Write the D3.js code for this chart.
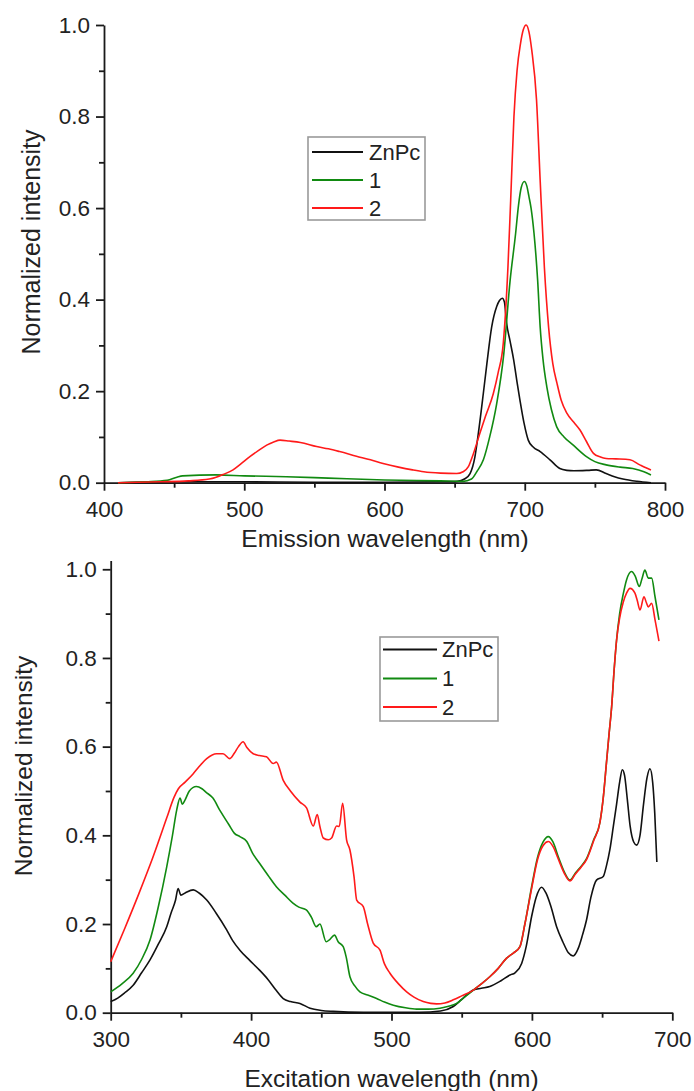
<!DOCTYPE html>
<html>
<head>
<meta charset="utf-8">
<script src="https://cdn.jsdelivr.net/npm/d3@7"></script>
<style>
  html, body { margin: 0; padding: 0; background: #fff; }
  svg { display: block; font-family: "Liberation Sans", Arial, Helvetica, sans-serif; }
</style>
</head>
<body>
<svg id="chart" width="694" height="1091"></svg>
<script>
// ---- Emission spectra: [wavelength nm, normalized intensity] ----
const emissionZnPc = [
  [410,0],[450,0.002],[500,0.002],[550,0.001],[600,0.001],[640,0.002],[652,0.003],[657,0.008],
  [661,0.02],[664.5,0.057],[667,0.11],[670.5,0.196],[673,0.26],[676.4,0.34],[680,0.385],[682,0.398],
  [684,0.403],[685.5,0.395],[687,0.35],[689.5,0.31],[692,0.27],[694.5,0.22],[696.6,0.18],[699.5,0.13],
  [702.5,0.093],[706,0.078],[711,0.068],[718,0.05],[725,0.031],[730,0.027],[735,0.026],[745,0.027],
  [751,0.028],[758,0.02],[764,0.013],[770,0.008],[780,0.003],[790,0.0]
];
const emission1 = [
  [410,0],[430,0.002],[445,0.005],[452,0.012],[456,0.015],[480,0.017],[500,0.015],[530,0.013],
  [560,0.01],[600,0.006],[640,0.004],[656,0.003],[662,0.008],[666,0.025],[670.5,0.05],[675,0.1],
  [680,0.173],[685,0.28],[689.5,0.44],[693.5,0.545],[695.5,0.605],[697.5,0.645],[699.7,0.658],
  [701.5,0.648],[703,0.625],[704.5,0.6],[706.6,0.545],[709.2,0.442],[711,0.34],[713,0.27],
  [715.7,0.21],[719,0.16],[722.8,0.122],[728,0.1],[734.6,0.082],[744,0.057],[750,0.046],
  [758,0.039],[768,0.034],[777,0.031],[785,0.024],[790,0.017]
];
const emission2 = [
  [410,0],[440,0.002],[460,0.004],[475,0.008],[480,0.012],[485,0.018],[492,0.028],[498,0.042],
  [504,0.057],[510,0.07],[516,0.082],[521,0.089],[525.5,0.093],[532,0.091],[540,0.088],[551.6,0.079],
  [560,0.074],[568,0.068],[580,0.058],[590,0.05],[599,0.042],[610,0.034],[620,0.028],[628,0.024],
  [640,0.021],[651.5,0.02],[656,0.024],[659.8,0.035],[663,0.06],[668,0.108],[672,0.145],[677.6,0.195],
  [681,0.24],[684.7,0.305],[688,0.47],[690,0.62],[692.3,0.8],[694.5,0.9],[697,0.96],[699,0.99],
  [701,1.0],[703,0.985],[705,0.945],[708.4,0.836],[711,0.66],[714,0.47],[717,0.34],[720,0.26],
  [723,0.217],[726,0.18],[730,0.152],[735,0.132],[739.4,0.115],[744,0.09],[749,0.064],[754,0.056],
  [758,0.053],[765,0.052],[775,0.05],[782,0.039],[786,0.033],[790,0.028]
];

// ---- Excitation spectra: [wavelength nm, normalized intensity] ----
const excitationZnPc = [
  [300,0.025],[305,0.033],[310,0.045],[316,0.062],[322,0.09],[328,0.119],[334,0.155],[339.9,0.194],
  [343,0.225],[346.2,0.254],[348,0.28],[350,0.265],[353,0.27],[358.8,0.277],[363,0.27],[368.4,0.254],
  [375,0.225],[382.6,0.187],[387,0.162],[392,0.141],[399,0.118],[406,0.096],[412,0.075],[418,0.05],
  [422.9,0.032],[428,0.025],[434.8,0.021],[442,0.01],[450,0.005],[458.5,0.003],[480,0.001],[520,0.001],
  [535,0.004],[544,0.014],[550,0.03],[558.3,0.051],[564,0.055],[570,0.059],[578,0.072],[584.4,0.085],
  [588,0.09],[592.7,0.111],[596,0.15],[599.8,0.217],[603,0.26],[606.9,0.283],[610,0.27],[613.5,0.24],
  [617.6,0.194],[622,0.16],[626,0.135],[629.4,0.128],[633,0.145],[636,0.175],[638.9,0.209],[642,0.26],
  [646,0.299],[650.8,0.307],[653,0.33],[655.5,0.367],[658,0.42],[660.3,0.47],[662.5,0.52],[664.4,0.548],
  [666,0.535],[668,0.48],[670,0.42],[672.5,0.385],[674.6,0.378],[677,0.4],[679.5,0.47],[682,0.53],
  [684.1,0.55],[686,0.52],[687.5,0.45],[689,0.34]
];
const excitation1 = [
  [300,0.047],[308,0.065],[316,0.089],[322,0.12],[328,0.164],[334,0.24],[339.9,0.329],[344,0.4],
  [347,0.457],[349.4,0.484],[351,0.47],[353,0.48],[356,0.5],[361,0.51],[365,0.505],[368,0.497],
  [372.8,0.484],[378,0.455],[384,0.425],[388,0.405],[392,0.397],[396.9,0.386],[401,0.36],[406,0.337],
  [412,0.31],[418,0.284],[424,0.265],[429.8,0.247],[434,0.238],[439.3,0.232],[443,0.215],[446.4,0.194],
  [449,0.2],[453.5,0.16],[456,0.165],[459.4,0.175],[462,0.16],[465.6,0.149],[467.7,0.126],[470.4,0.081],
  [474,0.06],[477.5,0.047],[483,0.04],[489.4,0.032],[495,0.024],[501.3,0.017],[510,0.011],[517.9,0.008],
  [526,0.008],[534.5,0.01],[540,0.014],[546.4,0.021],[552,0.035],[558.3,0.051],[564,0.065],[570,0.081],
  [576,0.1],[582,0.123],[587,0.135],[591.5,0.149],[595,0.2],[599.8,0.284],[604,0.35],[608,0.385],
  [611.7,0.397],[615,0.385],[619,0.35],[623,0.318],[627.1,0.299],[631,0.315],[635,0.33],[639,0.348],
  [644,0.39],[648.5,0.43],[651,0.49],[653,0.56],[655,0.63],[656.8,0.69],[658.5,0.77],[660.3,0.84],
  [662.5,0.9],[665.1,0.945],[667.4,0.976],[671,0.995],[673.5,0.985],[676.5,0.961],[678.5,0.98],
  [680.5,0.998],[682.9,0.98],[685.3,0.98],[687.7,0.938],[690.5,0.886]
];
const excitation2 = [
  [300,0.115],[310,0.19],[320,0.268],[330,0.35],[340,0.44],[345,0.485],[348.2,0.505],
  [353,0.52],[358.8,0.539],[363,0.555],[368.4,0.573],[375.4,0.584],
  [380,0.584],[384.9,0.573],[388,0.585],[391,0.6],[394.3,0.611],[397,0.598],[401.5,0.584],[406,0.58],
  [411,0.577],[415.7,0.562],[418,0.565],[422.9,0.524],[428,0.5],[434.8,0.475],[439.5,0.462],[444.3,0.421],
  [447.1,0.447],[449,0.42],[451.4,0.394],[455,0.39],[457.3,0.394],[460.9,0.421],[462.8,0.42],[465.2,0.472],
  [468,0.39],[470.4,0.367],[473.3,0.307],[475.2,0.254],[479.9,0.239],[483,0.2],[487,0.157],[491.8,0.141],
  [495,0.11],[498.9,0.089],[505,0.065],[510.8,0.047],[516,0.035],[522.6,0.025],[528,0.021],[532.1,0.02],
  [538,0.022],[544,0.029],[550,0.038],[558.3,0.051],[564,0.065],[570,0.081],[576,0.1],[582,0.123],
  [587,0.135],[591.5,0.149],[595,0.2],[599.8,0.28],[604,0.345],[608,0.377],[611.7,0.386],[615,0.375],
  [619,0.345],[623,0.315],[627.1,0.297],[631,0.313],[635,0.328],[639,0.346],[644,0.388],[648.5,0.43],
  [651,0.49],[653,0.56],[655,0.63],[656.8,0.69],[658.5,0.77],[660.3,0.84],[662.5,0.89],[665,0.925],
  [667.4,0.946],[669.9,0.957],[673.4,0.946],[675,0.93],[677,0.908],[679.8,0.938],[681.5,0.925],
  [682.9,0.915],[685.3,0.923],[687.7,0.886],[690.5,0.838]
];

// ---- Series names, colours, tick values ----
const seriesNames = ["ZnPc", "1", "2"];
const seriesColors = ["#111111", "#118a11", "#ff1a1a"];
const yMajorTicks = [0, 0.2, 0.4, 0.6, 0.8, 1.0];
const yMinorTicks = [0.1, 0.3, 0.5, 0.7, 0.9];
const emissionMajorTicks = [400, 500, 600, 700, 800];
const emissionMinorTicks = [450, 550, 650, 750];
const excitationMajorTicks = [300, 400, 500, 600, 700];
const excitationMinorTicks = [350, 450, 550, 650];
const yTitle = "Normalized intensity";

const svg = d3.select("#chart");
svg.append("rect").attr("width", 694).attr("height", 1091).attr("fill", "#fff");

function drawPanel(cfg) {
  const g = svg.append("g");
  const x = d3.scaleLinear().domain(cfg.xDomain).range(cfg.xRange);
  const y = d3.scaleLinear().domain(cfg.yDomain).range(cfg.yRange);

  // minor ticks
  g.append("g")
    .attr("transform", `translate(0,${cfg.yRange[0]})`)
    .call(d3.axisBottom(x).tickValues(cfg.xMinor).tickSize(5).tickFormat(""))
    .call(a => a.select(".domain").remove());
  g.append("g")
    .attr("transform", `translate(${cfg.xRange[0]},0)`)
    .call(d3.axisLeft(y).tickValues(yMinorTicks).tickSize(5).tickFormat(""))
    .call(a => a.select(".domain").remove());

  // major axes
  g.append("g")
    .attr("transform", `translate(0,${cfg.yRange[0]})`)
    .call(d3.axisBottom(x).tickValues(cfg.xMajor).tickSize(8).tickSizeOuter(0)
      .tickPadding(cfg.xPad).tickFormat(d3.format("d")));
  g.append("g")
    .attr("transform", `translate(${cfg.xRange[0]},0)`)
    .call(d3.axisLeft(y).tickValues(yMajorTicks).tickSize(8).tickSizeOuter(0)
      .tickPadding(6).tickFormat(d3.format(".1f")));

  g.selectAll(".tick line, .domain").attr("stroke", "#1a1a1a").attr("stroke-width", 1.8);
  g.selectAll(".tick text").attr("font-size", 22.5).attr("fill", "#222")
    .attr("font-family", "'Liberation Sans', Arial, sans-serif");

  // curves
  const line = d3.line().x(d => x(d[0])).y(d => y(d[1])).curve(d3.curveMonotoneX);
  cfg.series.forEach((s, i) => {
    g.append("path").datum(s)
      .attr("fill", "none")
      .attr("stroke", seriesColors[i])
      .attr("stroke-width", 1.6)
      .attr("stroke-linejoin", "round")
      .attr("d", line);
  });

  // axis titles
  g.append("text")
    .attr("x", cfg.xTitlePos[0]).attr("y", cfg.xTitlePos[1])
    .attr("text-anchor", "middle").attr("font-size", 24.5).attr("fill", "#222")
    .text(cfg.xTitle);
  g.append("text")
    .attr("transform", `translate(${cfg.yTitlePos[0]},${cfg.yTitlePos[1]}) rotate(-90)`)
    .attr("text-anchor", "middle").attr("font-size", cfg.yTitleSize).attr("fill", "#222")
    .text(yTitle);

  // legend
  const L = cfg.legend;
  g.append("rect")
    .attr("x", L.x).attr("y", L.y).attr("width", L.w).attr("height", L.h)
    .attr("fill", "#fff").attr("stroke", "#9a9a9a").attr("stroke-width", 1.6);
  seriesNames.forEach((name, i) => {
    const ly = L.rowY[i];
    g.append("line")
      .attr("x1", L.lineX[0]).attr("x2", L.lineX[1])
      .attr("y1", ly).attr("y2", ly)
      .attr("stroke", seriesColors[i]).attr("stroke-width", 1.8);
    g.append("text")
      .attr("x", L.textX).attr("y", ly).attr("dy", "0.36em")
      .attr("font-size", 22).attr("fill", "#222")
      .text(name);
  });
}

drawPanel({
  xDomain: [400, 800], xRange: [104, 665],
  yDomain: [0, 1], yRange: [482.7, 25],
  xMajor: emissionMajorTicks, xMinor: emissionMinorTicks, xPad: 10,
  series: [emissionZnPc, emission1, emission2],
  xTitle: "Emission wavelength (nm)", xTitlePos: [385, 547],
  yTitlePos: [40, 242], yTitleSize: 25,
  legend: { x: 308, y: 137, w: 117, h: 83, rowY: [152, 180, 208], lineX: [312, 363], textX: 369 }
});

drawPanel({
  xDomain: [300, 700], xRange: [110.7, 672.3],
  yDomain: [0, 1.02], yRange: [1012.7, 560.4],
  xMajor: excitationMajorTicks, xMinor: excitationMinorTicks, xPad: 10.5,
  series: [excitationZnPc, excitation1, excitation2],
  xTitle: "Excitation wavelength (nm)", xTitlePos: [391.5, 1086.5],
  yTitlePos: [31.5, 766], yTitleSize: 24.5,
  legend: { x: 380, y: 637, w: 118, h: 84, rowY: [649.5, 678.5, 707], lineX: [383, 437], textX: 442 }
});
</script>
</body>
</html>
